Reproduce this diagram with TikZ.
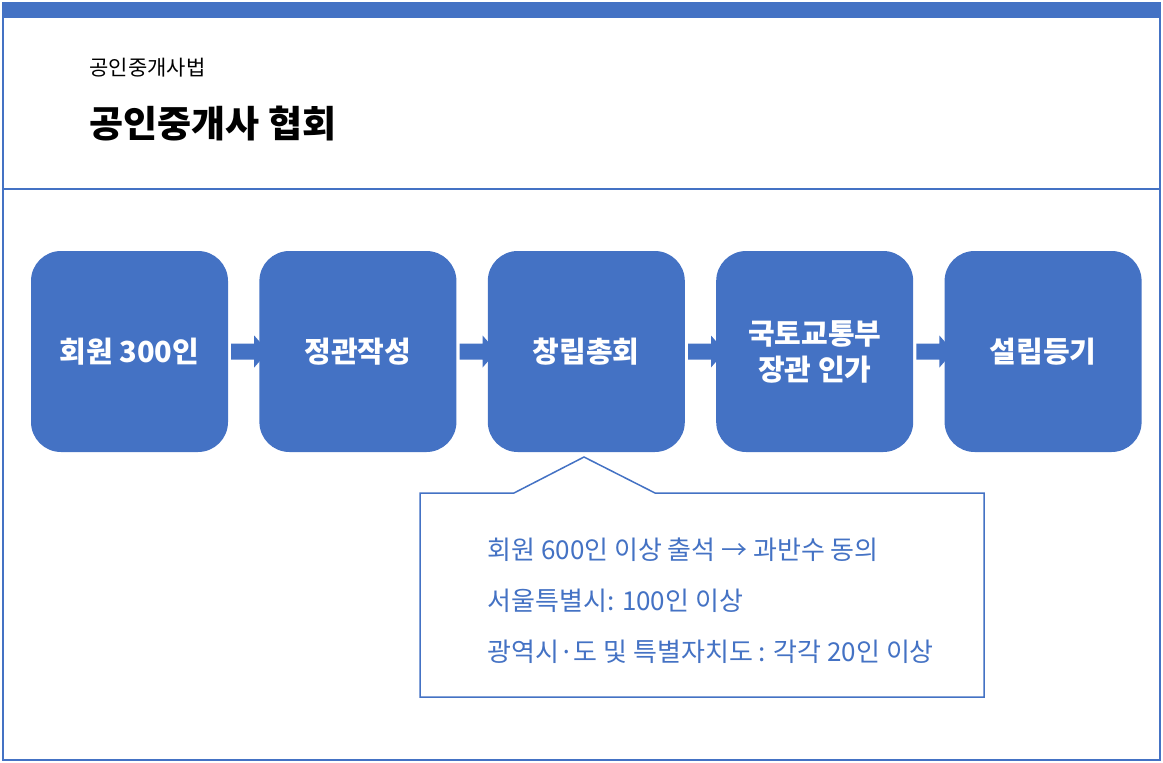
\documentclass[tikz,border=0pt]{standalone}
\usepackage{fontspec}
\setmainfont{Noto Sans CJK KR}
\usetikzlibrary{positioning,calc}
\definecolor{bblue}{RGB}{68,114,196}
\tikzset{
  stepbox/.style={draw=none,fill=bblue,rounded corners=30pt,minimum width=197pt,minimum height=201pt,
    text=white,font=\fontsize{29}{36}\selectfont\bfseries,align=center,inner sep=0pt},
  blockarrow/.style={fill=bblue,draw=none},
  note/.style={text=bblue,font=\fontsize{26}{30}\selectfont,anchor=west}
}
\begin{document}
\begin{tikzpicture}[x=1pt,y=-1pt]
\useasboundingbox (0,0) rectangle (1163,763);
% frame
\draw[bblue,line width=1.5pt] (3,3) rectangle (1160,760);
\fill[bblue] (3,3) rectangle (1160,18);
\draw[bblue,line width=1.5pt] (3,189) -- (1160,189);
\node[anchor=west,font=\fontsize{21}{24}\selectfont] (law) at (86,68) {공인중개사법};
\node[anchor=west,font=\fontsize{37}{42}\selectfont\bfseries] (title) at (86,124) {공인중개사 협회};
% steps
\node[stepbox] (s1) at (129.5,351.5) {회원 300인};
\node[stepbox,right=31pt of s1] (s2) {정관작성};
\node[stepbox,right=31pt of s2] (s3) {창립총회};
\node[stepbox,right=31pt of s3] (s4) {국토교통부\\장관 인가};
\node[stepbox,right=31pt of s4] (s5) {설립등기};
\foreach \a/\b in {s1/s2,s2/s3,s3/s4,s4/s5}
  \fill[blockarrow] ($(\a.east)+(3,-8)$) -- ++(23,0) -- ++(0,-8) -- ++(14,16)
    -- ++(-14,16) -- ++(0,-8) -- ++(-23,0) -- cycle;
% callout
\draw[bblue,line width=1.5pt,fill=white] (420,493) -- (514,493) -- (584,457) -- (655,493)
  -- (984,493) -- (984,697) -- (420,697) -- cycle;
\node[note] (n1) at (484,550) {회원 600인 이상 출석 → 과반수 동의};
\node[note] (n2) at (484,601) {서울특별시: 100인 이상};
\node[note] (n3) at (484,652) {광역시·도 및 특별자치도 : 각각 20인 이상};
\end{tikzpicture}
\end{document}
